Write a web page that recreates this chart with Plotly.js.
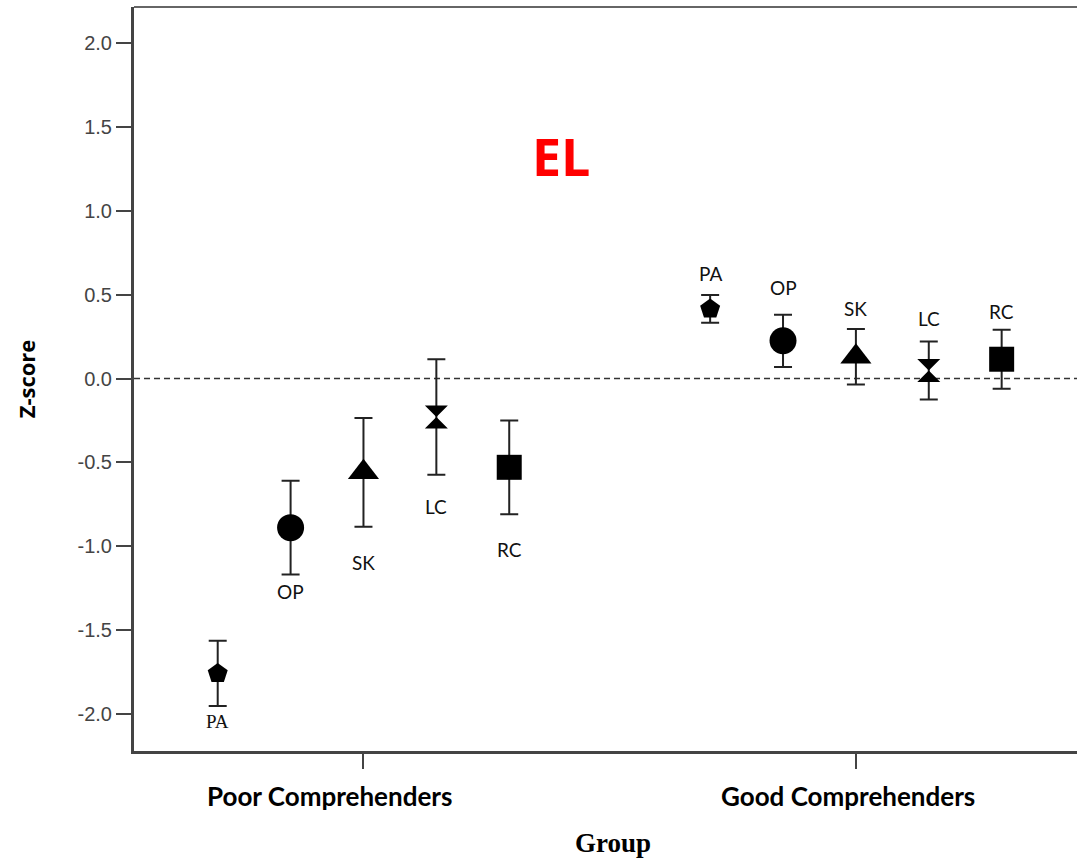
<!DOCTYPE html>
<html>
<head>
<meta charset="utf-8">
<script src="https://cdn.plot.ly/plotly-3.0.1.min.js"></script>
<style>html,body{margin:0;padding:0;background:#fff;}#chart{width:1077px;height:858px;}</style>
</head>
<body>
<div id="chart"></div>
<script>
// ---- data ----
const groups = ['Poor Comprehenders', 'Good Comprehenders'];
const measures = ['PA', 'OP', 'SK', 'LC', 'RC'];
const poorMean = [-1.76, -0.89, -0.56, -0.23, -0.53];
const poorErr  = [0.195, 0.28, 0.325, 0.345, 0.28];
const goodMean = [0.415, 0.225, 0.13, 0.048, 0.115];
const goodErr  = [0.083, 0.156, 0.166, 0.173, 0.176];
const yTicks = [-2.0, -1.5, -1.0, -0.5, 0.0, 0.5, 1.0, 1.5, 2.0];

// ---- style ----
const step = 0.148;
const symbols = ['pentagon', 'circle', 'triangle-up', 'hourglass', 'square'];
const sizes = [21, 27, 27, 23, 25];
const poorLabelShift = [-15, -17, -36, -32, -35];
const goodLabelShift = [22, 27, 20, 23, 18];
const poorLabelFont = ['Liberation Serif', 'Lato', 'Lato', 'Lato', 'Lato'];
const groupLabelShift = [-34, -8];

const traces = measures.map((m, i) => {
  const off = (i - 2) * step;
  return {
    type: 'scatter', mode: 'markers', name: m,
    x: [0 + off, 1 + off],
    y: [poorMean[i], goodMean[i]],
    error_y: {type: 'data', array: [poorErr[i], goodErr[i]], visible: true,
              color: '#222', thickness: 2, width: 9},
    marker: {symbol: symbols[i], size: sizes[i], color: '#000', line: {width: 0}},
    hoverinfo: 'skip'
  };
});

const annotations = [];
measures.forEach((m, i) => {
  const off = (i - 2) * step;
  annotations.push({x: 0 + off, y: poorMean[i] - poorErr[i], xref: 'x', yref: 'y',
    text: m, showarrow: false, yanchor: 'middle', yshift: poorLabelShift[i],
    font: {family: poorLabelFont[i], size: 19, color: '#111'}});
  annotations.push({x: 1 + off, y: goodMean[i] + goodErr[i], xref: 'x', yref: 'y',
    text: m, showarrow: false, yanchor: 'middle', yshift: goodLabelShift[i],
    font: {family: 'Lato', size: 19, color: '#111'}});
});
groups.forEach((g, i) => {
  annotations.push({x: i, y: 0, xref: 'x', yref: 'paper', text: '<b>' + g + '</b>',
    showarrow: false, yanchor: 'middle', yshift: -45, xshift: groupLabelShift[i],
    font: {family: 'Lato', size: 26, color: '#000'}});
});
annotations.push({x: 0.403, y: 1.33, xref: 'x', yref: 'y', text: '<b>EL</b>', showarrow: false,
  font: {family: 'Open Sans', size: 52, color: '#ff0000'}});
annotations.push({x: 0.5, xref: 'paper', y: 0, yref: 'paper', yanchor: 'middle', yshift: -92, xshift: 7,
  text: '<b>Group</b>', showarrow: false, font: {family: 'Liberation Serif', size: 27, color: '#000'}});

const layout = {
  width: 1077, height: 858,
  margin: {l: 134, r: 0, t: 7, b: 107, pad: 0},
  paper_bgcolor: '#fff', plot_bgcolor: '#fff',
  showlegend: false,
  xaxis: {
    range: [-0.466, 1.449], tickmode: 'array', tickvals: [0, 1], showticklabels: false,
    showgrid: false, zeroline: false, showline: true, linecolor: '#444', linewidth: 3,
    ticks: 'outside', ticklen: 15, tickwidth: 2, tickcolor: '#444'
  },
  yaxis: {
    range: [-2.223, 2.217], tickmode: 'array', tickvals: yTicks,
    ticktext: yTicks.map(v => v.toFixed(1)),
    showgrid: false, zeroline: false, showline: true, linecolor: '#444', linewidth: 3,
    ticks: 'outside', ticklen: 15, tickwidth: 2, tickcolor: '#444',
    tickfont: {family: 'Liberation Sans', size: 20, color: '#444'},
    title: {text: '<b>Z-score</b>', font: {family: 'Open Sans', size: 22, color: '#000'}, standoff: 36}
  },
  shapes: [
    {type: 'line', xref: 'paper', yref: 'y', x0: 0, x1: 1, y0: 0, y1: 0,
     line: {color: '#333', width: 1.5, dash: '6px,4px'}, layer: 'below'},
    {type: 'line', xref: 'paper', yref: 'paper', x0: 0, x1: 1, y0: 1, y1: 1,
     line: {color: '#666', width: 2}}
  ],
  annotations: annotations
};

Plotly.newPlot('chart', traces, layout, {displayModeBar: false, staticPlot: true});
</script>
</body>
</html>
